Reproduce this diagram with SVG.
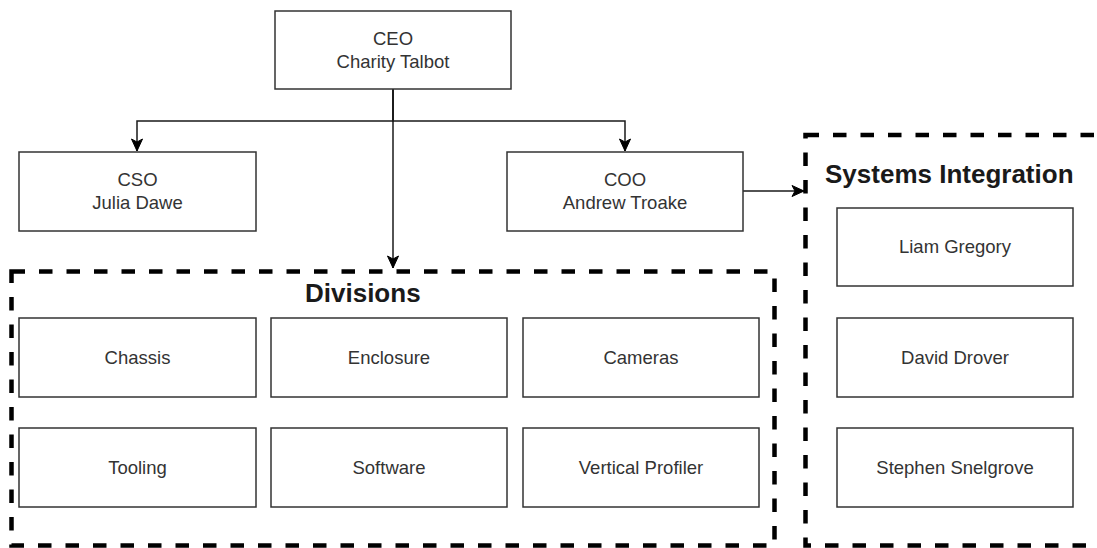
<svg xmlns="http://www.w3.org/2000/svg" width="1097" height="548" viewBox="0 0 1097 548">
  <style>
    .box { fill: #ffffff; stroke: #333333; stroke-width: 1.5; }
    .lbl { font-family: "Liberation Sans", Arial, sans-serif; font-size: 18.5px; fill: #333333; text-anchor: middle; }
    .group { fill: none; stroke: #000000; stroke-width: 4.5; stroke-dasharray: 13.5 14; }
    .title { font-family: "Liberation Sans", Arial, sans-serif; font-size: 26px; font-weight: bold; fill: #1a1a1a; }
    .link { fill: none; stroke: #1a1a1a; stroke-width: 1.5; }
  </style>
  <defs>
    <marker id="arrow" viewBox="-13 -7 14 14" refX="0" refY="0" markerWidth="14" markerHeight="14" markerUnits="userSpaceOnUse" orient="auto">
      <path d="M0,0 L-12,-5.5 L-9,0 L-12,5.5 Z" fill="#000000" stroke="#000000" stroke-width="1"/>
    </marker>
  </defs>
  <rect width="1097" height="548" fill="#ffffff"/>

  <!-- group containers -->
  <g id="divisions">
    <rect class="group" x="11.5" y="271.5" width="763" height="274"/>
    <text class="title" x="305" y="301.5">Divisions</text>
  </g>
  <g id="systems-integration">
    <rect class="group" x="805.5" y="135" width="320" height="410.5"/>
    <text class="title" x="825" y="183">Systems Integration</text>
  </g>

  <!-- connectors -->
  <g id="connectors">
    <path class="link" d="M393,89 V121 H137 V151" marker-end="url(#arrow)"/>
    <path class="link" d="M393,89 V121 H625 V151" marker-end="url(#arrow)"/>
    <path class="link" d="M393,89 V268" marker-end="url(#arrow)"/>
    <path class="link" d="M743,191 H804" marker-end="url(#arrow)"/>
  </g>

  <!-- executives -->
  <g id="ceo">
    <rect class="box" x="275" y="11" width="236" height="78"/>
    <text class="lbl" x="393" y="44.5">CEO</text>
    <text class="lbl" x="393" y="67.5">Charity Talbot</text>
  </g>
  <g id="cso">
    <rect class="box" x="19" y="152" width="237" height="79"/>
    <text class="lbl" x="137.5" y="186">CSO</text>
    <text class="lbl" x="137.5" y="209">Julia Dawe</text>
  </g>
  <g id="coo">
    <rect class="box" x="507" y="152" width="236" height="79"/>
    <text class="lbl" x="625" y="186">COO</text>
    <text class="lbl" x="625" y="209">Andrew Troake</text>
  </g>

  <!-- divisions -->
  <g id="chassis">
    <rect class="box" x="19" y="318" width="237" height="79"/>
    <text class="lbl" x="137.5" y="363.5">Chassis</text>
  </g>
  <g id="enclosure">
    <rect class="box" x="271" y="318" width="236" height="79"/>
    <text class="lbl" x="389" y="363.5">Enclosure</text>
  </g>
  <g id="cameras">
    <rect class="box" x="523" y="318" width="236" height="79"/>
    <text class="lbl" x="641" y="363.5">Cameras</text>
  </g>
  <g id="tooling">
    <rect class="box" x="19" y="428" width="237" height="79"/>
    <text class="lbl" x="137.5" y="473.5">Tooling</text>
  </g>
  <g id="software">
    <rect class="box" x="271" y="428" width="236" height="79"/>
    <text class="lbl" x="389" y="473.5">Software</text>
  </g>
  <g id="vertical-profiler">
    <rect class="box" x="523" y="428" width="236" height="79"/>
    <text class="lbl" x="641" y="473.5">Vertical Profiler</text>
  </g>

  <!-- systems integration members -->
  <g id="liam-gregory">
    <rect class="box" x="837" y="208" width="236" height="78"/>
    <text class="lbl" x="955" y="253">Liam Gregory</text>
  </g>
  <g id="david-drover">
    <rect class="box" x="837" y="318" width="236" height="79"/>
    <text class="lbl" x="955" y="363.5">David Drover</text>
  </g>
  <g id="stephen-snelgrove">
    <rect class="box" x="837" y="428" width="236" height="79"/>
    <text class="lbl" x="955" y="473.5">Stephen Snelgrove</text>
  </g>
</svg>
